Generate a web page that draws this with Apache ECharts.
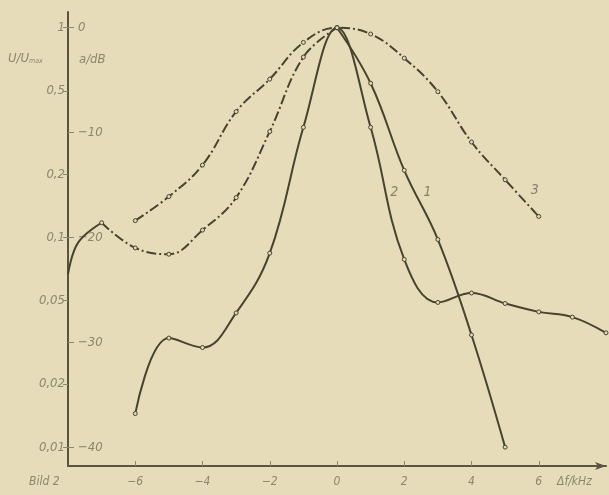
<!DOCTYPE html>
<html><head><meta charset="utf-8">
<script src="https://cdn.jsdelivr.net/npm/echarts@6/dist/echarts.min.js"></script>
<style>html,body{margin:0;padding:0;background:#e7dcb9}#c{width:609px;height:495px}</style>
</head><body><div id="c"></div>
<script>
// Tick labels
const ampTicks = [1, 0.5, 0.2, 0.1, 0.05, 0.02, 0.01];
const ampTickLabels = ['1', '0,5', '0,2', '0,1', '0,05', '0,02', '0,01'];
const dbTicks = [0, -10, -20, -30, -40];
const xTicks = [-6, -4, -2, 0, 2, 4, 6];

// Curve 3 (dash-dot), a/dB
const c3X = [-6, -5, -4, -3, -2, -1, 0, 1, 2, 3, 4, 5, 6];
const c3Db = [-18.4, -16.1, -13.1, -8.0, -4.9, -1.4, 0, -0.6, -2.9, -6.1, -10.9, -14.5, -18.0];

// Curve 1: short solid start, dash-dot left flank, solid right flank
const c1StartX = [-8, -7.7, -7];
const c1StartDb = [-23.5, -20.5, -18.6];
const c1LeftX = [-7, -6, -5, -4, -3, -2, -1, 0];
const c1LeftDb = [-18.6, -21.0, -21.6, -19.3, -16.2, -9.9, -2.8, 0];
const c1RightX = [0, 1, 2, 3, 4, 5];
const c1RightDb = [0, -5.3, -13.6, -20.2, -29.3, -40.0];

// Curve 2 (solid)
const c2X = [-6, -5, -4, -3, -2, -1, 0, 1, 2, 3, 4, 5, 6, 7, 8];
const c2Db = [-36.8, -29.6, -30.5, -27.2, -21.5, -9.5, 0, -9.5, -22.1, -26.2, -25.3, -26.3, -27.1, -27.6, -29.1];

// Curve name labels
const labelX = [1.7, 2.69, 5.88];
const labelDb = [-15.7, -15.7, -15.5];
const labelText = ['2', '1', '3'];

const zip = (xs, ys) => xs.map((x, i) => [x, ys[i]]);
const ink = '#46432f';
const txt = '#8a8670';
const font = 'DejaVu Sans Condensed';
const toDb = v => 20 * Math.log10(v);
const minus = v => (v < 0 ? '\u2212' + (-v) : String(v));

const sym = {symbol: 'circle', symbolSize: 4, showSymbol: true,
  itemStyle: {color: '#e4dab8', borderColor: ink, borderWidth: 1}};
const dashDot = [10, 3, 2, 3];

const chart = echarts.init(document.getElementById('c'));
chart.setOption({
  backgroundColor: '#e7dcb9',
  animation: false,
  grid: {left: 68, right: 3, top: 12, bottom: 29},
  xAxis: {
    type: 'value', min: -8, max: 8,
    axisLine: {onZero: false, lineStyle: {color: '#5a5542', width: 2}, symbol: ['none', 'arrow'], symbolSize: [6, 11]},
    axisTick: {inside: true, length: 5, customValues: xTicks, lineStyle: {color: txt}},
    axisLabel: {customValues: xTicks, formatter: minus, color: txt, fontFamily: font,
      fontStyle: 'italic', fontSize: 12, margin: 10},
    splitLine: {show: false}
  },
  yAxis: [{
    type: 'value', min: -41.8, max: 1.5, position: 'left',
    axisLine: {show: true, onZero: false, lineStyle: {color: '#5a5542', width: 2}},
    axisTick: {show: true, length: 5, customValues: ampTicks.map(toDb), lineStyle: {color: txt}},
    axisLabel: {customValues: ampTicks.map(toDb), color: txt, fontFamily: font, fontStyle: 'italic',
      fontSize: 13, margin: 3,
      formatter: v => {
        let best = 0;
        ampTicks.forEach((a, i) => { if (Math.abs(toDb(a) - v) < Math.abs(toDb(ampTicks[best]) - v)) best = i; });
        return ampTickLabels[best];
      }},
    splitLine: {show: false}
  }, {
    type: 'value', min: -41.8, max: 1.5, position: 'left', offset: 0,
    axisLine: {show: false, onZero: false},
    axisTick: {show: true, inside: true, length: 6, customValues: dbTicks, lineStyle: {color: txt}},
    axisLabel: {inside: true, customValues: dbTicks, formatter: minus, color: txt, fontFamily: font,
      fontStyle: 'italic', fontSize: 13, margin: 10},
    splitLine: {show: false}
  }],
  series: [
    Object.assign({type: 'line', name: '3', data: zip(c3X, c3Db), smooth: 0.4,
      lineStyle: {color: ink, width: 2, type: dashDot}}, sym),
    {type: 'line', name: '1', data: zip(c1StartX, c1StartDb), smooth: 0.4, showSymbol: false,
      lineStyle: {color: ink, width: 2}},
    Object.assign({type: 'line', name: '1', data: zip(c1LeftX, c1LeftDb), smooth: 0.4,
      lineStyle: {color: ink, width: 2, type: dashDot}}, sym),
    Object.assign({type: 'line', name: '1', data: zip(c1RightX, c1RightDb), smooth: 0.4,
      lineStyle: {color: ink, width: 2}}, sym),
    Object.assign({type: 'line', name: '2', data: zip(c2X, c2Db), smooth: 0.4,
      lineStyle: {color: ink, width: 2}}, sym),
    {type: 'scatter', data: labelX.map((x, i) => [x, labelDb[i], labelText[i]]), symbolSize: 0,
      label: {show: true, position: 'inside', formatter: p => p.data[2], color: '#6e6a55',
        fontFamily: font, fontStyle: 'italic', fontSize: 14}}
  ],
  graphic: [
    {type: 'text', left: 8, top: 52, style: {
      text: '{a|U/U}{s|max}', fontFamily: font, fontStyle: 'italic',
      rich: {a: {fontSize: 13, fill: txt, fontFamily: font, fontStyle: 'italic'},
             s: {fontSize: 7, fill: txt, fontFamily: font, fontStyle: 'italic', padding: [6, 0, 0, 0]}}}},
    {type: 'text', left: 79, top: 53, style: {text: 'a/dB', fontSize: 13, fill: txt, fontFamily: font, fontStyle: 'italic'}},
    {type: 'text', left: 29, top: 476, style: {text: 'Bild 2', fontSize: 12, fill: txt, fontFamily: font, fontStyle: 'italic'}},
    {type: 'text', left: 557, top: 476, style: {text: '\u0394f/kHz', fontSize: 12, fill: txt, fontFamily: font, fontStyle: 'italic'}}
  ]
});
</script></body></html>
